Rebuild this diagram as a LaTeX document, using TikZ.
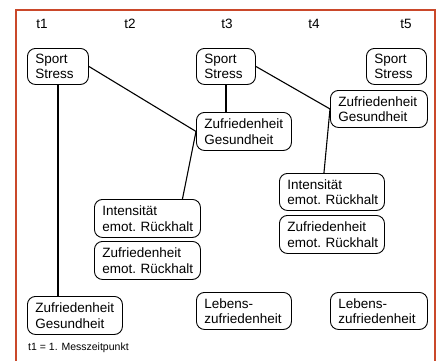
\documentclass[tikz,border=0pt]{standalone}
\usepackage{fontspec}
\setmainfont{Liberation Sans}
\definecolor{frame}{RGB}{202,72,42}
\tikzset{
  box/.style={draw, rounded corners=8pt, line width=0.9pt, anchor=north west,
    inner xsep=8pt, inner ysep=0pt, align=left,
    font=\fontsize{13.5}{15.5}\selectfont,
    execute at begin node={\frenchspacing\hyphenpenalty=10000\hbadness=10000\hfuzz=100pt\relax}},
  conn/.style={line width=1.1pt},
  tlab/.style={font=\fontsize{13.5}{15.5}\selectfont, anchor=base}
}
\newcommand{\bx}[6]{\node[box, minimum width=#4pt, minimum height=#5pt, text width=#4pt-16pt] (#1) at (#2,#3) {#6};}
\begin{document}
\begin{tikzpicture}[x=1pt,y=-1pt]
\useasboundingbox (0,0) rectangle (441,360);
\fill[white] (0,0) rectangle (441,360);
\draw[frame, line width=2.2pt] (16,362) -- (16,10) -- (435,10) -- (435,362);
% time labels
\node[tlab] (l1) at (42,28) {t1};
\node[tlab] (l2) at (130,28) {t2};
\node[tlab] (l3) at (227,28) {t3};
\node[tlab] (l4) at (314,28) {t4};
\node[tlab] (l5) at (406,28) {t5};
% boxes
\bx{ss1}{27}{48}{61}{36}{Sport\\Stress}
\bx{ss3}{196}{48}{59}{36}{Sport\\Stress}
\bx{ss5}{366}{48}{60}{36}{Sport\\Stress}
\bx{zg4}{330}{90}{97}{37}{Zufriedenheit\\Gesundheit}
\bx{zg3}{196}{112}{95}{38}{Zufriedenheit\\Gesundheit}
\bx{ie2}{94}{199}{106}{38}{Intensität\\emot.~Rückhalt}
\bx{ze2}{94}{241}{106}{38}{Zufriedenheit\\emot.~Rückhalt}
\bx{ie4}{279}{173}{105}{37}{Intensität\\emot.~Rückhalt}
\bx{ze4}{279}{215}{105}{38}{Zufriedenheit\\emot.~Rückhalt}
\bx{zg1}{27}{296}{95}{38}{Zufriedenheit\\Gesundheit}
\bx{lz3}{196}{292}{95}{37}{Lebens-\\zufriedenheit}
\bx{lz5}{330}{292}{97}{37}{Lebens-\\zufriedenheit}
% connectors
\draw[conn] (ss1.south) -- (ss1.south |- zg1.north);
\draw[conn] (ss1.east) -- (zg3.west);
\draw[conn] (ss3.south) -- (ss3.south |- zg3.north);
\draw[conn] (ss3.east) -- (zg4.west);
\draw[conn] (zg4.west) -- ([xshift=-8pt]ie4.north);
\draw[conn] (zg3.west) -- ([xshift=35pt]ie2.north);
% footnote
\node[anchor=base west, font=\fontsize{10.5}{12}\selectfont, inner sep=0pt] (fn) at (28,350) {t1 = 1. Messzeitpunkt};
\end{tikzpicture}
\end{document}
